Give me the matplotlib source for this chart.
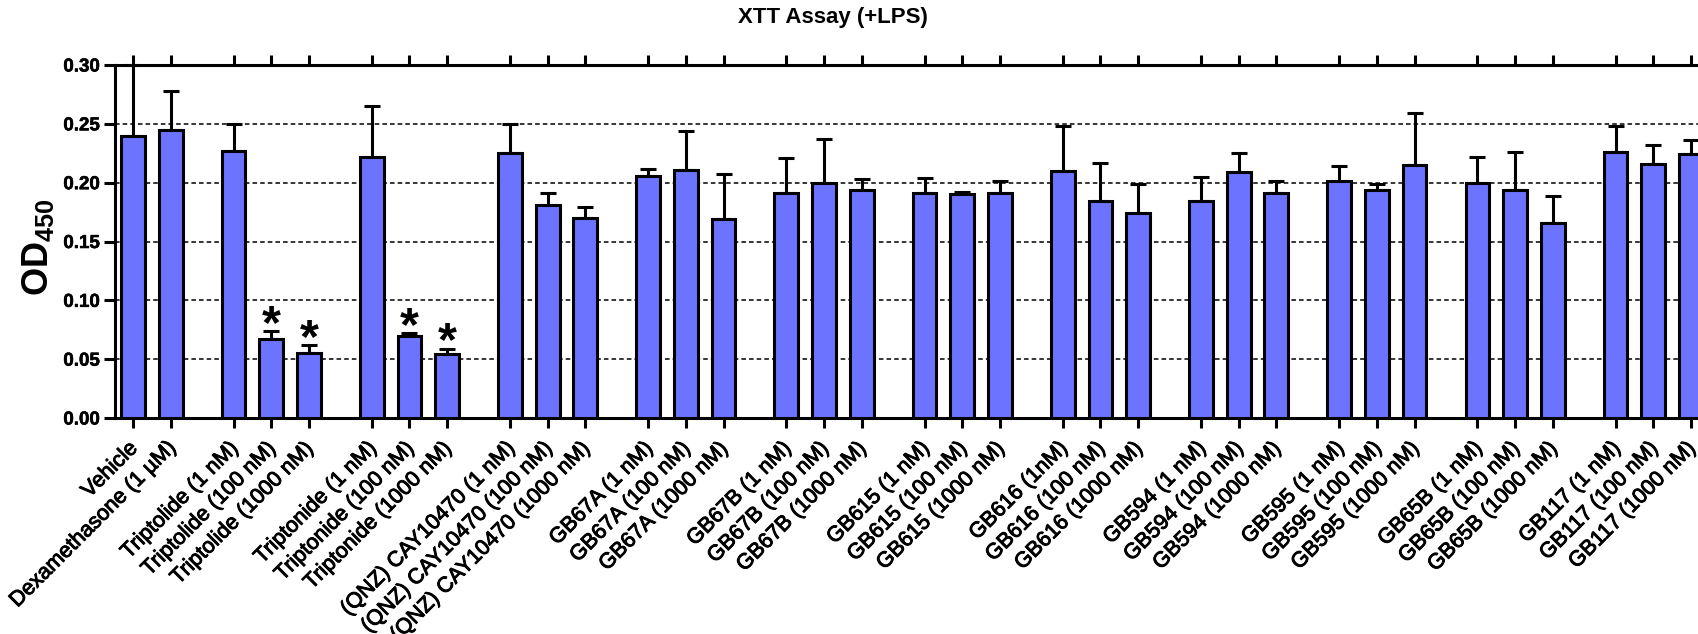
import numpy as np
import matplotlib
matplotlib.use("Agg")
import matplotlib.pyplot as plt
import matplotlib.patheffects as pe
from matplotlib.transforms import ScaledTranslation

plt.rcParams['font.family'] = ['Liberation Sans', 'DejaVu Sans']
plt.rcParams['mathtext.fontset'] = 'custom'
plt.rcParams['mathtext.rm'] = 'Liberation Sans'
plt.rcParams['mathtext.bf'] = 'Liberation Sans:bold'

# data
labels = [
    "Vehicle", "Dexamethasone (1 µM)",
    "Triptolide (1 nM)", "Triptolide (100 nM)", "Triptolide (1000 nM)",
    "Triptonide (1 nM)", "Triptonide (100 nM)", "Triptonide (1000 nM)",
    "(QNZ) CAY10470 (1 nM)", "(QNZ) CAY10470 (100 nM)", "(QNZ) CAY10470 (1000 nM)",
    "GB67A (1 nM)", "GB67A (100 nM)", "GB67A (1000 nM)",
    "GB67B (1 nM)", "GB67B (100 nM)", "GB67B (1000 nM)",
    "GB615 (1 nM)", "GB615 (100 nM)", "GB615 (1000 nM)",
    "GB616 (1nM)", "GB616 (100 nM)", "GB616 (1000 nM)",
    "GB594 (1 nM)", "GB594 (100 nM)", "GB594 (1000 nM)",
    "GB595 (1 nM)", "GB595 (100 nM)", "GB595 (1000 nM)",
    "GB65B (1 nM)", "GB65B (100 nM)", "GB65B (1000 nM)",
    "GB117 (1 nM)", "GB117 (100 nM)", "GB117 (1000 nM)",
]
group_sizes = [2, 3, 3, 3, 3, 3, 3, 3, 3, 3, 3, 3]

means = [0.240, 0.245,
         0.227, 0.067, 0.055,
         0.222, 0.070, 0.054,
         0.225, 0.181, 0.170,
         0.206, 0.211, 0.169,
         0.191, 0.200, 0.194,
         0.191, 0.190, 0.191,
         0.210, 0.184, 0.174,
         0.184, 0.209, 0.191,
         0.201, 0.194, 0.215,
         0.200, 0.194, 0.166,
         0.226, 0.216, 0.224]
sem = [0.060, 0.033,
       0.023, 0.007, 0.007,
       0.043, 0.002, 0.005,
       0.025, 0.010, 0.009,
       0.006, 0.033, 0.038,
       0.030, 0.037, 0.009,
       0.013, 0.002, 0.010,
       0.038, 0.033, 0.025,
       0.021, 0.016, 0.010,
       0.013, 0.005, 0.044,
       0.022, 0.032, 0.023,
       0.022, 0.016, 0.012]
significant = [3, 4, 6, 7]

# bar positions with a gap between groups
gap = 2 / 3
pos = []
start = 0.0
for g, n in enumerate(group_sizes):
    for j in range(n):
        pos.append(start + j)
    start += n + gap
pos = np.array(pos)
means = np.array(means)
sem = np.array(sem)

heavy = [pe.withStroke(linewidth=0.7, foreground='black')]

fig = plt.figure(figsize=(16.98, 6.34), dpi=100)
ax = fig.add_axes([115 / 1698, 216 / 634, 1594 / 1698, 353 / 634])

ax.bar(pos, means, width=0.63, color='#6B73FF', edgecolor='black', linewidth=2.2, zorder=3)
ax.errorbar(pos, means, yerr=[np.zeros_like(sem), sem], fmt='none', ecolor='black',
            elinewidth=2.2, capsize=5.8, capthick=2.2, zorder=2, clip_on=False)

for i in significant:
    ax.text(pos[i], means[i] + sem[i] + 0.005, '*', ha='center', va='center',
            fontsize=35, fontweight='bold', zorder=4)

ax.set_xlim(pos[0] - 0.478, pos[-1] + 0.478)
ax.set_ylim(0, 0.30)
ax.set_yticks(np.arange(0, 0.301, 0.05))
ax.set_yticklabels([f'{v:.2f}' for v in np.arange(0, 0.301, 0.05)], fontweight='bold', fontsize=13.5)
for lab in ax.get_yticklabels():
    lab.set_path_effects([pe.withStroke(linewidth=0.4, foreground='black')])

# x labels drawn as text so they can be nudged relative to the ticks
ax.set_xticks(pos)
ax.set_xticklabels([])
lab_trans = ax.get_xaxis_transform() + ScaledTranslation(-0.06, -0.2, fig.dpi_scale_trans)
for x, lab in zip(pos, labels):
    ax.text(x, 0, lab, transform=lab_trans, rotation=45, ha='right', va='top',
            rotation_mode='anchor', fontsize=15.5, path_effects=heavy, clip_on=False)

ax.yaxis.grid(True, linestyle=(0, (3, 2)), color='black', linewidth=1.1)
ax.set_axisbelow(True)

for s in ax.spines.values():
    s.set_linewidth(2.2)
ax.tick_params(axis='x', top=True, bottom=True, direction='out', length=7.5, width=2.2)
ax.tick_params(axis='y', direction='out', length=8, width=2.2, pad=3)

fig.text(833 / 1698, 1 - 18 / 634, 'XTT Assay (+LPS)', ha='center', va='center',
         fontsize=16, fontweight='bold')
fig.text(38 / 1698, 1 - 247 / 634, r'$\mathbf{OD_{450}}$', ha='center', va='center',
         rotation=90, fontsize=26)

fig.savefig('out.png', dpi=100)
